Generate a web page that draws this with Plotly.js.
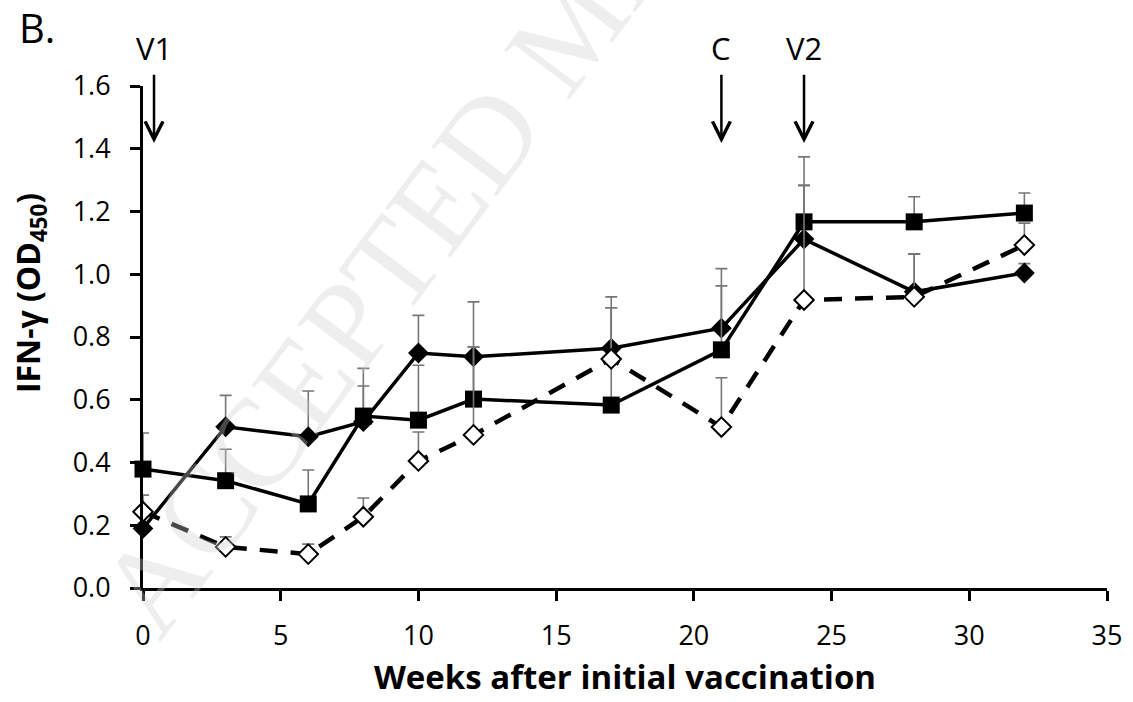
<!DOCTYPE html>
<html>
<head>
<meta charset="utf-8">
<script src="https://cdn.plot.ly/plotly-3.0.1.min.js"></script>
<style>
  html, body { margin: 0; padding: 0; background: #fff; }
  #chart { width: 1133px; height: 702px; }
</style>
</head>
<body>
<div id="chart"></div>
<script>
// Weeks after initial vaccination
const weeks = [0, 3, 6, 8, 10, 12, 17, 21, 24, 28, 32];

// Filled diamond series (solid line)
const diamondValues = [0.19, 0.514, 0.482, 0.53, 0.749, 0.737, 0.764, 0.828, 1.112, 0.944, 1.004];
const diamondErr    = [0.05, 0.10, 0.146, 0.114, 0.12, 0.175, 0.164, 0.19, 0.17, 0.12, 0.03];

// Filled square series (solid line)
const squareValues = [0.379, 0.342, 0.268, 0.548, 0.535, 0.602, 0.583, 0.759, 1.167, 1.167, 1.195];
const squareErr    = [0.115, 0.10, 0.108, 0.152, 0.175, 0.166, 0.31, 0.204, 0.207, 0.08, 0.064];

// Open diamond series (dashed line)
const openValues = [0.243, 0.131, 0.108, 0.227, 0.405, 0.488, 0.730, 0.513, 0.918, 0.928, 1.093];
const openErr    = [0.053, 0.032, 0.032, 0.06, 0.092, 0.28, 0.163, 0.157, 0.366, 0.137, 0.07];

// Event markers (week, label)
const eventWeeks  = [0.4, 21, 24];
const eventLabels = ['V1', 'C', 'V2'];
const arrowTip = 1.418, labelY = 1.72;

const xTickVals = [0, 5, 10, 15, 20, 25, 30, 35];
const yTickVals = [0, 0.2, 0.4, 0.6, 0.8, 1.0, 1.2, 1.4, 1.6];

const FONT = '"Open Sans", "Noto Sans", sans-serif';

function errBar(arr) {
  return {
    type: 'data', symmetric: false, array: arr,
    arrayminus: arr.map(() => 0),
    color: '#777777', thickness: 1.6, width: 6
  };
}

const traces = [
  {
    x: weeks, y: diamondValues, type: 'scatter', mode: 'lines+markers',
    name: 'Diamond', cliponaxis: false,
    line: { color: '#000', width: 3.5 },
    marker: { symbol: 'diamond', size: 16, color: '#000', line: { width: 0 } },
    error_y: errBar(diamondErr)
  },
  {
    x: weeks, y: squareValues, type: 'scatter', mode: 'lines+markers',
    name: 'Square', cliponaxis: false,
    line: { color: '#000', width: 3.5 },
    marker: { symbol: 'square', size: 17, color: '#000', line: { width: 0 } },
    error_y: errBar(squareErr)
  },
  {
    x: weeks, y: openValues, type: 'scatter', mode: 'lines+markers',
    name: 'Open diamond', cliponaxis: false,
    line: { color: '#000', width: 4.5, dash: '18px,13px' },
    marker: { symbol: 'diamond', size: 15, color: '#fff', line: { color: '#000', width: 2 } },
    error_y: errBar(openErr)
  }
];

const annotations = [];
eventWeeks.forEach((w, i) => {
  annotations.push({
    x: w, y: arrowTip, xref: 'x', yref: 'y',
    ax: w, ay: labelY, axref: 'x', ayref: 'y',
    text: eventLabels[i], showarrow: true, arrowhead: 5, arrowsize: 1.4, arrowwidth: 2.5,
    arrowcolor: '#000', standoff: 0, startstandoff: 4,
    font: { family: FONT, size: 31, color: '#000' }
  });
});

// Panel letter
annotations.push({
  x: -0.11, y: 1.116, xref: 'paper', yref: 'paper',
  text: 'B.', showarrow: false, xanchor: 'center', yanchor: 'middle',
  font: { family: FONT, size: 40, color: '#000' }
});

// Y-axis title (placed as in the reference)
annotations.push({
  x: -0.117, y: 0.588, xref: 'paper', yref: 'paper',
  text: '<b>IFN-γ (OD<sub>450</sub>)</b>', showarrow: false, textangle: -90,
  xanchor: 'center', yanchor: 'middle',
  font: { family: FONT, size: 32, color: '#000' }
});

// Watermark
annotations.push({
  x: 0.446, y: 1.121, xref: 'paper', yref: 'paper',
  text: 'ACCEPTED MANUSCRIPT', showarrow: false, textangle: -53,
  xanchor: 'center', yanchor: 'middle',
  font: { family: '"Liberation Serif", serif', size: 125, color: 'rgba(205,205,205,0.35)' }
});

const axisCommon = {
  showline: true, linewidth: 3, linecolor: '#000', mirror: false,
  ticks: 'outside', ticklen: 10, tickwidth: 3, tickcolor: '#000',
  showgrid: false, zeroline: false,
  tickfont: { family: FONT, size: 27, color: '#000' }
};

const layout = {
  width: 1133, height: 702,
  paper_bgcolor: '#fff', plot_bgcolor: '#fff',
  showlegend: false,
  margin: { l: 143, r: 26, t: 86, b: 114 },
  xaxis: Object.assign({}, axisCommon, {
    range: [0, 35], tickvals: xTickVals, ticklabelstandoff: 12,
    title: { text: '<b>Weeks after initial vaccination</b>', standoff: 14,
             font: { family: FONT, size: 33, color: '#000' } }
  }),
  yaxis: Object.assign({}, axisCommon, {
    range: [0, 1.6], tickvals: yTickVals, tickformat: '.1f', ticklabelstandoff: 14
  }),
  annotations: annotations
};

Plotly.newPlot('chart', traces, layout, { displayModeBar: false, staticPlot: true });
</script>
</body>
</html>
